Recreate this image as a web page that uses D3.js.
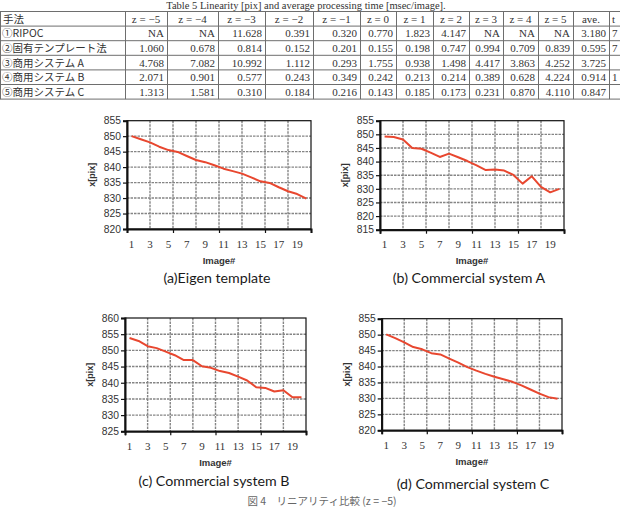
<!DOCTYPE html>
<html>
<head>
<meta charset="utf-8">
<script src="https://cdn.jsdelivr.net/npm/d3@7"></script>
<style>
  html, body { margin: 0; padding: 0; background: #fff; }
  svg { display: block; }
</style>
</head>
<body>
<svg id="fig" width="620" height="507"></svg>
<script>
// ---- table data ----
const tableTitle = 'Table 5   Linearity [pix] and average processing time [msec/image].';
const tableHeader = ['手法', 'z = −5', 'z = −4', 'z = −3', 'z = −2', 'z = −1', 'z = 0', 'z = 1', 'z = 2', 'z = 3', 'z = 4', 'z = 5', 'ave.', 't'];
const methods = ['①RIPOC', '②固有テンプレート法', '③商用システム A', '④商用システム B', '⑤商用システム C'];
const ripocRow   = ['NA', 'NA', '11.628', '0.391', '0.320', '0.770', '1.823', '4.147', 'NA', 'NA', 'NA', '3.180', '7'];
const eigenRow   = ['1.060', '0.678', '0.814', '0.152', '0.201', '0.155', '0.198', '0.747', '0.994', '0.709', '0.839', '0.595', '7'];
const systemARow = ['4.768', '7.082', '10.992', '1.112', '0.293', '1.755', '0.938', '1.498', '4.417', '3.863', '4.252', '3.725', ''];
const systemBRow = ['2.071', '0.901', '0.577', '0.243', '0.349', '0.242', '0.213', '0.214', '0.389', '0.628', '4.224', '0.914', '1'];
const systemCRow = ['1.313', '1.581', '0.310', '0.184', '0.216', '0.143', '0.185', '0.173', '0.231', '0.870', '4.110', '0.847', ''];

// ---- chart data (x[pix] per image, z = -5) ----
const imageNo = [1, 2, 3, 4, 5, 6, 7, 8, 9, 10, 11, 12, 13, 14, 15, 16, 17, 18, 19, 20];
const xTickLabels = [1, 3, 5, 7, 9, 11, 13, 15, 17, 19];
const eigenTemplate = [850.0, 849.0, 848.0, 846.6, 845.5, 844.9, 843.6, 842.3, 841.6, 840.6, 839.5, 838.7, 837.9, 836.7, 835.4, 834.9, 833.5, 832.2, 831.3, 829.8];
const commercialA   = [849.2, 849.0, 848.1, 845.0, 844.7, 843.3, 841.7, 842.9, 841.6, 840.2, 838.6, 836.9, 837.1, 836.7, 835.1, 831.9, 834.6, 830.7, 828.7, 830.0];
const commercialB   = [853.8, 852.9, 851.3, 850.7, 849.6, 848.5, 847.0, 847.0, 845.1, 844.6, 843.6, 843.0, 841.9, 840.7, 838.6, 838.4, 837.3, 837.7, 835.5, 835.5];
const commercialC   = [850.1, 848.9, 847.6, 846.1, 845.4, 844.2, 843.8, 842.5, 841.2, 839.8, 838.7, 837.7, 836.8, 836.0, 835.2, 834.1, 832.8, 831.5, 830.4, 829.9];
const yTicksA = [820, 825, 830, 835, 840, 845, 850, 855];
const yTicksB = [815, 820, 825, 830, 835, 840, 845, 850, 855];
const yTicksC = [825, 830, 835, 840, 845, 850, 855, 860];
const yTicksD = [820, 825, 830, 835, 840, 845, 850, 855];
const figCaption = '図 4　リニアリティ比較 (z = −5)';

const svg = d3.select('#fig');
const serif = '"Liberation Serif", "DejaVu Serif", serif';
const sans = '"Liberation Sans", Arial, sans-serif';
const cjk = '"Noto Sans CJK JP", sans-serif';

// ---- table ----
function drawTable() {
  const colEdges = [0, 125, 167, 218, 265, 313, 360, 396, 433, 469, 503, 538, 573, 609, 650];
  const top = 11.5, rowH = 14.6;
  const rows = [ripocRow, eigenRow, systemARow, systemBRow, systemCRow];
  const g = svg.append('g');

  g.append('text')
    .attr('x', 306).attr('y', 8.5)
    .attr('text-anchor', 'middle')
    .style('font-family', serif).style('font-size', '10.5px').attr('fill', '#333')
    .text(tableTitle);

  const nRows = rows.length + 1;
  // horizontal rules
  for (let r = 0; r <= nRows; r++) {
    g.append('line')
      .attr('x1', 0).attr('x2', 620)
      .attr('y1', top + r * rowH).attr('y2', top + r * rowH)
      .attr('stroke', '#6e6e6e').attr('stroke-width', 1);
  }
  // vertical rules
  colEdges.slice(0, -1).forEach(x => {
    g.append('line')
      .attr('x1', x + 0.5).attr('x2', x + 0.5)
      .attr('y1', top).attr('y2', top + nRows * rowH)
      .attr('stroke', '#6e6e6e').attr('stroke-width', 1);
  });

  // header
  tableHeader.forEach((h, i) => {
    const t = g.append('text')
      .attr('y', top + rowH / 2 + 4)
      .attr('fill', '#333')
      .style('font-size', '11px')
      .text(h);
    if (i === 0) {
      t.attr('x', 3).style('font-family', cjk).style('font-size', '10.5px');
    } else if (i === tableHeader.length - 1) {
      t.attr('x', colEdges[i] + 3).style('font-family', serif);
    } else {
      t.attr('x', (colEdges[i] + colEdges[i + 1]) / 2).attr('text-anchor', 'middle').style('font-family', serif);
    }
  });

  // body
  rows.forEach((row, r) => {
    const cy = top + (r + 1) * rowH + rowH / 2 + 4;
    g.append('text')
      .attr('x', 2).attr('y', cy)
      .attr('fill', '#333')
      .style('font-family', cjk).style('font-size', '10.5px')
      .text(methods[r]);
    row.forEach((v, i) => {
      const last = i === row.length - 1;
      g.append('text')
        .attr('x', last ? colEdges[i + 1] + 3 : colEdges[i + 2] - 3)
        .attr('y', cy)
        .attr('text-anchor', last ? 'start' : 'end')
        .attr('fill', '#333')
        .style('font-family', serif).style('font-size', '11px')
        .text(v);
    });
  });
}

// ---- line chart panel ----
function drawPanel(p) {
  const g = svg.append('g');
  const w = p.right - p.left;

  const xBand = d3.scaleBand().domain(imageNo).range([p.left, p.right]);
  const xLin = d3.scaleLinear().domain([0, 20]).range([p.left, p.right]);
  const y = d3.scaleLinear()
    .domain([p.yTicks[0], p.yTicks[p.yTicks.length - 1]])
    .range([p.bottom, p.top]);

  // gridlines
  const grid = g.append('g')
    .attr('stroke', '#858585').attr('stroke-width', 1.4).attr('stroke-dasharray', '2.5,1');
  p.yTicks.slice(1, -1).forEach(v => {
    grid.append('line')
      .attr('x1', p.left).attr('x2', p.right)
      .attr('y1', y(v)).attr('y2', y(v));
  });
  d3.range(1, 8).forEach(k => {
    grid.append('line')
      .attr('x1', xLin(k * 2.5)).attr('x2', xLin(k * 2.5))
      .attr('y1', p.top).attr('y2', p.bottom);
  });

  // plot frame
  g.append('rect')
    .attr('x', p.left).attr('y', p.top)
    .attr('width', w).attr('height', p.bottom - p.top)
    .attr('fill', 'none').attr('stroke', '#111').attr('stroke-width', 1.2);

  // y axis
  const yAxis = g.append('g')
    .attr('transform', `translate(${p.left},0)`)
    .call(d3.axisLeft(y).tickValues(p.yTicks).tickSize(4).tickPadding(2));
  yAxis.select('.domain').attr('stroke', '#111').attr('stroke-width', 2);
  yAxis.selectAll('.tick line').attr('stroke', '#111').attr('stroke-width', 1.2);
  yAxis.selectAll('.tick text')
    .attr('fill', '#333')
    .style('font-family', sans).style('font-size', '10.3px');

  // x axis: ticks every 5 images, labels at odd image numbers
  const xTicks = g.append('g')
    .attr('transform', `translate(0,${p.bottom})`)
    .call(d3.axisBottom(xLin).tickValues([0, 5, 10, 15, 20]).tickSize(4).tickFormat(''));
  xTicks.select('.domain').attr('stroke', '#111').attr('stroke-width', 2);
  xTicks.selectAll('.tick line').attr('stroke', '#111').attr('stroke-width', 1.2);

  const xLabels = g.append('g')
    .attr('transform', `translate(0,${p.bottom})`)
    .call(d3.axisBottom(xBand).tickValues(xTickLabels).tickSize(0).tickPadding(11));
  xLabels.select('.domain').remove();
  xLabels.selectAll('.tick text')
    .attr('fill', '#333')
    .style('font-family', serif).style('font-size', '11px');

  // series line
  const line = d3.line()
    .x((d, i) => xBand(imageNo[i]) + xBand.bandwidth() / 2)
    .y(d => y(d));
  g.append('path')
    .datum(p.data)
    .attr('d', line)
    .attr('fill', 'none')
    .attr('stroke', '#e8472f')
    .attr('stroke-width', 2)
    .attr('stroke-linejoin', 'round');

  // axis titles
  g.append('text')
    .attr('x', (p.left + p.right) / 2).attr('y', p.bottom + 34.5)
    .attr('text-anchor', 'middle')
    .attr('fill', '#333')
    .style('font-family', sans).style('font-size', '9.5px').style('font-weight', 'bold')
    .text('Image#');

  g.append('text')
    .attr('transform', `translate(${p.left - 32},${(p.top + p.bottom) / 2}) rotate(-90)`)
    .attr('text-anchor', 'middle')
    .attr('fill', '#333')
    .style('font-family', sans).style('font-size', '9px').style('font-weight', 'bold')
    .text('x[pix]');

  // sub caption
  g.append('text')
    .attr('x', p.capX).attr('y', p.capY)
    .attr('text-anchor', 'middle')
    .attr('fill', '#1a1a1a')
    .style('font-family', 'Lato, "Open Sans", sans-serif').style('font-size', '14.2px')
    .text(p.caption);
}

drawTable();

const panels = [
  { data: eigenTemplate, yTicks: yTicksA, left: 127, right: 311, top: 120.7, bottom: 229, caption: '(a)Eigen template', capX: 217, capY: 282.5 },
  { data: commercialA, yTicks: yTicksB, left: 380, right: 564, top: 120.7, bottom: 229.7, caption: '(b) Commercial system A', capX: 469, capY: 282.5 },
  { data: commercialB, yTicks: yTicksC, left: 125, right: 306, top: 318, bottom: 431.3, caption: '(c) Commercial system B', capX: 214, capY: 486 },
  { data: commercialC, yTicks: yTicksD, left: 381.7, right: 562, top: 318.7, bottom: 430.3, caption: '(d) Commercial system C', capX: 473, capY: 488.5 }
];
panels.forEach(drawPanel);

// figure caption
svg.append('text')
  .attr('x', 322).attr('y', 505)
  .attr('text-anchor', 'middle')
  .attr('fill', '#666')
  .style('font-family', cjk).style('font-size', '10.5px')
  .text(figCaption);
</script>
</body>
</html>
